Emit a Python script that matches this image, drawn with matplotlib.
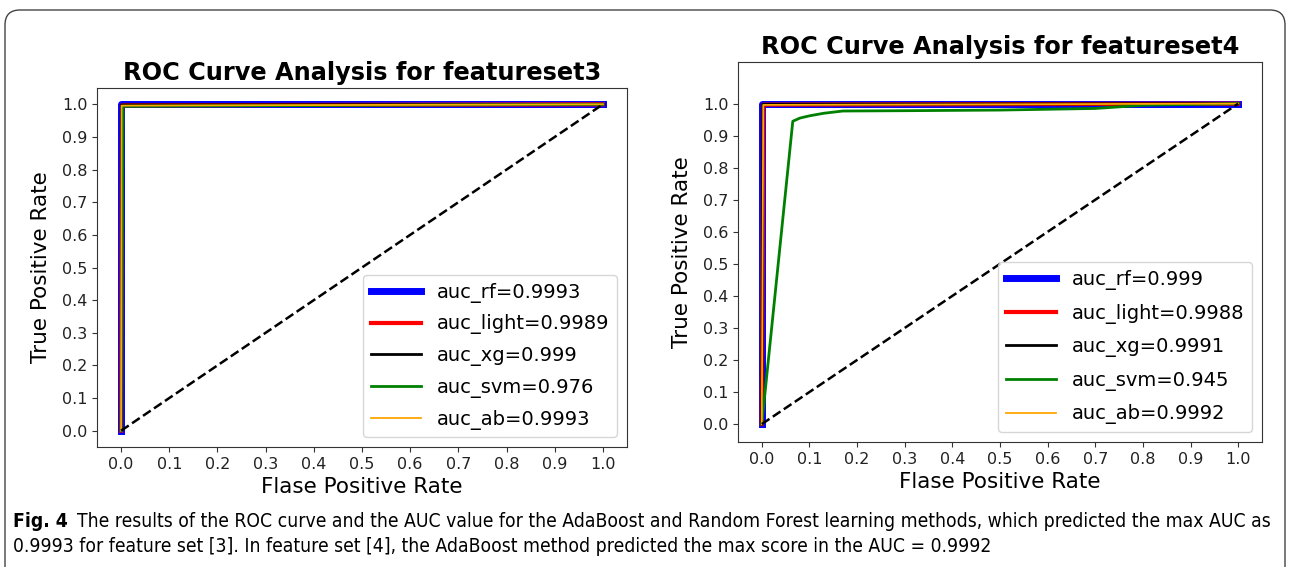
import matplotlib.pyplot as plt
from matplotlib.patches import FancyBboxPatch

# feature set 3
fpr_rf3 = [0.0, 0.0, 1.0]
tpr_rf3 = [0.0, 1.0, 1.0]
fpr_light3 = [0.0, 0.002, 1.0]
tpr_light3 = [0.0, 0.997, 1.0]
fpr_xg3 = [0.0, 0.001, 1.0]
tpr_xg3 = [0.0, 0.998, 1.0]
fpr_svm3 = [0.0, 0.004, 1.0]
tpr_svm3 = [0.0, 0.994, 1.0]
fpr_ab3 = [0.0, 0.001, 1.0]
tpr_ab3 = [0.0, 0.996, 1.0]
labels3 = ["auc_rf=0.9993", "auc_light=0.9989", "auc_xg=0.999",
           "auc_svm=0.976", "auc_ab=0.9993"]

# feature set 4
fpr_rf4 = [0.0, 0.0, 1.0]
tpr_rf4 = [0.0, 1.0, 1.0]
fpr_light4 = [0.0, 0.003, 1.0]
tpr_light4 = [0.0, 0.997, 1.0]
fpr_xg4 = [0.0, 0.002, 1.0]
tpr_xg4 = [0.0, 0.998, 1.0]
fpr_svm4 = [0.0, 0.065, 0.08, 0.1, 0.13, 0.17, 0.3, 0.5, 0.7, 0.8, 1.0]
tpr_svm4 = [0.0, 0.945, 0.955, 0.962, 0.97, 0.977, 0.978, 0.98, 0.985, 0.995, 1.0]
fpr_ab4 = [0.0, 0.003, 1.0]
tpr_ab4 = [0.0, 0.996, 1.0]
labels4 = ["auc_rf=0.999", "auc_light=0.9988", "auc_xg=0.9991",
           "auc_svm=0.945", "auc_ab=0.9992"]

ticks = [0.0, 0.1, 0.2, 0.3, 0.4, 0.5, 0.6, 0.7, 0.8, 0.9, 1.0]

caption1 = ("The results of the ROC curve and the AUC value for the AdaBoost and Random "
            "Forest learning methods, which predicted the max AUC as")
caption2 = ("0.9993 for feature set [3]. In feature set [4], the AdaBoost method predicted "
            "the max score in the AUC = 0.9992")

colors = ["blue", "red", "black", "green", "orange"]
widths = [5, 3, 2, 2, 1.3]

W, H = 1290, 567
fig = plt.figure(figsize=(W / 100, H / 100), dpi=100)


def roc_panel(rect, curves, labels, title, ylim, lspace):
    ax = fig.add_axes(rect)
    for (x, y), lab, c, lw in zip(curves, labels, colors, widths):
        ax.plot(x, y, color=c, lw=lw, label=lab)
    ax.plot([0, 1], [0, 1], "k--", lw=1.8)
    ax.set_xticks(ticks)
    ax.set_yticks(ticks)
    ax.set_xlim(-0.05, 1.05)
    ax.set_ylim(*ylim)
    ax.tick_params(labelsize=11.5, colors="#333333", labelcolor="#222222")
    for s in ax.spines.values():
        s.set_color("#333333")
    ax.set_xlabel("Flase Positive Rate", fontsize=15.5)
    ax.set_ylabel("True Positive Rate", fontsize=15.5, labelpad=8)
    ax.set_title(title, fontsize=17.3, fontweight="bold")
    ax.legend(loc="lower right", fontsize=14, handlelength=2.6, labelspacing=lspace)
    return ax


ax1 = roc_panel([97 / W, 1 - 447 / H, 530 / W, 359 / H],
                [(fpr_rf3, tpr_rf3), (fpr_light3, tpr_light3), (fpr_xg3, tpr_xg3),
                 (fpr_svm3, tpr_svm3), (fpr_ab3, tpr_ab3)],
                labels3, "ROC Curve Analysis for featureset3", (-0.05, 1.05), 0.6)
ax2 = roc_panel([738 / W, 1 - 442 / H, 524 / W, 380 / H],
                [(fpr_rf4, tpr_rf4), (fpr_light4, tpr_light4), (fpr_xg4, tpr_xg4),
                 (fpr_svm4, tpr_svm4), (fpr_ab4, tpr_ab4)],
                labels4, "ROC Curve Analysis for featureset4", (-0.056, 1.13), 0.7)

# caption, sized so that the first line spans the box
cap = dict(family=["DejaVu Sans"], fontstretch="condensed", va="baseline")
r = fig.canvas.get_renderer()
fs = 13
y1, y2 = 1 - 527 / H, 1 - 552 / H
t1 = fig.text(13 / W, y1, "Fig. 4", fontsize=fs, fontweight="bold", **cap)
t2 = fig.text(0, y1, caption1, fontsize=fs, **cap)
t3 = fig.text(13 / W, y2, caption2, fontsize=fs, **cap)
w_fig = t1.get_window_extent(r).width
w_cap = t2.get_window_extent(r).width
scale = (1270 - 13) / (w_fig + 9 + w_cap)
for t in (t1, t2, t3):
    t.set_fontsize(fs * scale)
t2.set_x((13 + w_fig * scale + 9) / W)

# rounded frame of the figure box
fig.patches.append(FancyBboxPatch((0.05, -0.3), 12.8, 5.67 - 0.1 + 0.3,
                                  boxstyle="round,pad=0,rounding_size=0.15",
                                  transform=fig.dpi_scale_trans, fill=False,
                                  ec="#444444", lw=1.0))

fig.savefig("out.png", dpi=100)
